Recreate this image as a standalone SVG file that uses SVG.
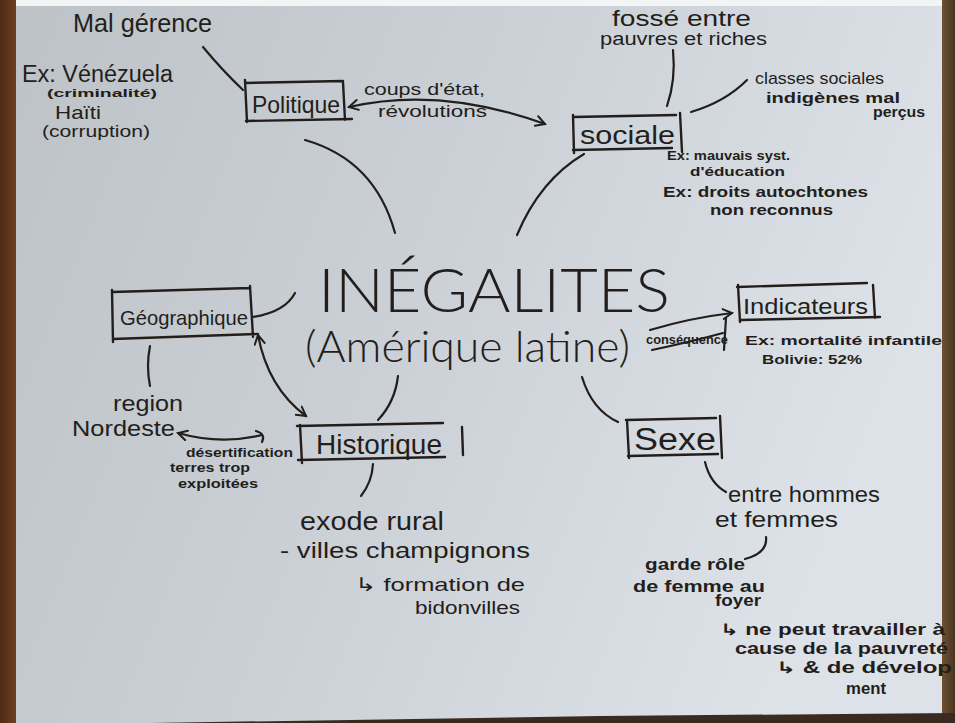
<svg xmlns="http://www.w3.org/2000/svg" width="955" height="723" viewBox="0 0 955 723">
  <defs>
    <linearGradient id="paper" x1="0" y1="0" x2="1" y2="0.3">
      <stop offset="0" stop-color="#bcc2c6"/>
      <stop offset="0.5" stop-color="#cad0d5"/>
      <stop offset="1" stop-color="#dce2e7"/>
    </linearGradient>
    <linearGradient id="woodL" x1="0" y1="0" x2="1" y2="0">
      <stop offset="0" stop-color="#4e2a16"/>
      <stop offset="1" stop-color="#70401f"/>
    </linearGradient>
    <linearGradient id="woodR" x1="0" y1="0" x2="1" y2="0">
      <stop offset="0" stop-color="#6e5232"/>
      <stop offset="1" stop-color="#4a3420"/>
    </linearGradient>
    <marker id="tip" viewBox="0 0 12 12" refX="10" refY="6" markerWidth="12" markerHeight="12" markerUnits="userSpaceOnUse" orient="auto-start-reverse">
      <path d="M1,1 L10,6 L1,11" fill="none" stroke="#231e1b" stroke-width="2" stroke-linecap="round"/>
    </marker>
  </defs>
  <style>
    .ink { fill: #231e1b; font-family: "Liberation Sans", "DejaVu Sans", sans-serif; }
    .thin { font-family: "Lato", "Open Sans", "Liberation Sans", sans-serif; font-weight: 300; }
    .b { font-weight: bold; }
    .line { fill: none; stroke: #231e1b; stroke-width: 2.2; stroke-linecap: round; }
    .box { fill: none; stroke: #231e1b; stroke-width: 2.4; stroke-linecap: round; }
  </style>

  <!-- sheet and surroundings -->
  <rect x="0" y="0" width="955" height="723" fill="url(#paper)"/>
  <rect x="0" y="0" width="955" height="6" fill="#f3f4f5"/>
  <rect x="0" y="0" width="16" height="723" fill="url(#woodL)"/>
  <rect x="942" y="0" width="13" height="723" fill="url(#woodR)"/>
  <polygon points="150,723 955,723 955,713 600,716" fill="#3a2a20"/>

  <!-- connectors -->
  <g id="connectors">
    <path class="line" d="M203,47 Q222,70 243,90"/>
    <path class="line" d="M349,107 Q440,86 545,124" marker-start="url(#tip)" marker-end="url(#tip)"/>
    <path class="line" d="M673,50 Q676,80 667,106"/>
    <path class="line" d="M691,112 Q725,102 747,80"/>
    <path class="line" d="M305,140 Q375,160 395,233"/>
    <path class="line" d="M584,154 Q540,180 517,235"/>
    <path class="line" d="M253,317 Q285,312 295,293"/>
    <path class="line" d="M258,335 Q268,388 306,416" marker-start="url(#tip)" marker-end="url(#tip)"/>
    <path class="line" d="M150,346 Q146,366 150,386"/>
    <path class="line" d="M398,376 Q395,402 378,420"/>
    <path class="line" d="M178,433 Q220,445 262,435" marker-start="url(#tip)"/>
    <path class="line" d="M256,431 Q266,434 262,442"/>
    <path class="line" d="M373,464 Q372,482 361,496"/>
    <path class="line" d="M650,330 Q690,318 732,313" marker-end="url(#tip)"/>
    <path class="line" d="M652,350 Q690,342 723,333"/>
    <path class="line" d="M726,318 L724,350"/>
    <path class="line" d="M582,377 Q592,410 618,422"/>
    <path class="line" d="M705,462 Q710,483 726,492"/>
    <path class="line" d="M766,537 Q768,553 745,559"/>
  </g>

  <!-- central topic -->
  <g id="inegalites">
    <text class="ink thin" x="318" y="312" font-size="62" textLength="352" lengthAdjust="spacingAndGlyphs">INÉGALITES</text>
    <text class="ink thin" x="305" y="362" font-size="43" textLength="325" lengthAdjust="spacingAndGlyphs">(Amérique latine)</text>
  </g>

  <!-- political -->
  <g id="politique">
    <path class="box" d="M245,83 L343,81 M245,80 L247,122 M246,121 L352,119 M343,82 L345,120"/>
    <text class="ink" x="252" y="113" font-size="24" textLength="88" lengthAdjust="spacingAndGlyphs">Politique</text>
  </g>
  <g id="mal-gerence">
    <text class="ink" x="73" y="32" font-size="26" textLength="139" lengthAdjust="spacingAndGlyphs">Mal gérence</text>
    <text class="ink" x="22" y="82" font-size="23" textLength="151" lengthAdjust="spacingAndGlyphs">Ex: Vénézuela</text>
    <text class="ink b" x="47" y="97" font-size="11" textLength="110" lengthAdjust="spacingAndGlyphs">(criminalité)</text>
    <text class="ink" x="55" y="119" font-size="19" textLength="46" lengthAdjust="spacingAndGlyphs">Haïti</text>
    <text class="ink" x="42" y="137" font-size="17" textLength="108" lengthAdjust="spacingAndGlyphs">(corruption)</text>
  </g>
  <g id="coups-etat">
    <text class="ink" x="364" y="95" font-size="17" textLength="121" lengthAdjust="spacingAndGlyphs">coups d'état,</text>
    <text class="ink" x="378" y="117" font-size="17" textLength="109" lengthAdjust="spacingAndGlyphs">révolutions</text>
  </g>

  <!-- social -->
  <g id="sociale">
    <path class="box" d="M573,117 L676,115 M573,115 L574,153 M573,150 L672,148 M680,113 L682,152"/>
    <text class="ink" x="580" y="144" font-size="26" textLength="95" lengthAdjust="spacingAndGlyphs">sociale</text>
  </g>
  <g id="fosse">
    <text class="ink" x="612" y="26" font-size="22" textLength="139" lengthAdjust="spacingAndGlyphs">fossé entre</text>
    <text class="ink" x="600" y="45" font-size="18" textLength="167" lengthAdjust="spacingAndGlyphs">pauvres et riches</text>
  </g>
  <g id="classes">
    <text class="ink" x="755" y="84" font-size="17" textLength="129" lengthAdjust="spacingAndGlyphs">classes sociales</text>
    <text class="ink b" x="766" y="103" font-size="14" textLength="134" lengthAdjust="spacingAndGlyphs">indigènes mal</text>
    <text class="ink b" x="873" y="117" font-size="14" textLength="52" lengthAdjust="spacingAndGlyphs">perçus</text>
  </g>
  <g id="education">
    <text class="ink b" x="667" y="160" font-size="13" textLength="123" lengthAdjust="spacingAndGlyphs">Ex: mauvais syst.</text>
    <text class="ink b" x="690" y="176" font-size="13" textLength="95" lengthAdjust="spacingAndGlyphs">d'éducation</text>
    <text class="ink b" x="663" y="197" font-size="15" textLength="205" lengthAdjust="spacingAndGlyphs">Ex: droits autochtones</text>
    <text class="ink b" x="710" y="215" font-size="15" textLength="123" lengthAdjust="spacingAndGlyphs">non reconnus</text>
  </g>

  <!-- geographic -->
  <g id="geographique">
    <path class="box" d="M112,292 L250,288 M112,290 L113,342 M113,339 L258,334 M250,286 L253,337"/>
    <text class="ink" x="120" y="325" font-size="21" textLength="128" lengthAdjust="spacingAndGlyphs">Géographique</text>
  </g>
  <g id="nordeste">
    <text class="ink" x="113" y="411" font-size="22" textLength="70" lengthAdjust="spacingAndGlyphs">region</text>
    <text class="ink" x="72" y="436" font-size="22" textLength="103" lengthAdjust="spacingAndGlyphs">Nordeste</text>
  </g>
  <g id="desertification">
    <text class="ink b" x="186" y="457" font-size="13" textLength="107" lengthAdjust="spacingAndGlyphs">désertification</text>
    <text class="ink b" x="170" y="472" font-size="13" textLength="80" lengthAdjust="spacingAndGlyphs">terres trop</text>
    <text class="ink b" x="178" y="488" font-size="13" textLength="80" lengthAdjust="spacingAndGlyphs">exploitées</text>
  </g>

  <!-- historical -->
  <g id="historique">
    <path class="box" d="M297,426 L443,423 M300,425 L302,463 M298,460 L445,457 M462,427 L463,455"/>
    <text class="ink" x="316" y="454" font-size="27" textLength="126" lengthAdjust="spacingAndGlyphs">Historique</text>
  </g>
  <g id="exode">
    <text class="ink" x="300" y="530" font-size="25" textLength="144" lengthAdjust="spacingAndGlyphs">exode rural</text>
    <text class="ink" x="280" y="558" font-size="22" textLength="250" lengthAdjust="spacingAndGlyphs">- villes champignons</text>
    <text class="ink" x="355" y="591" font-size="19" textLength="170" lengthAdjust="spacingAndGlyphs">↳ formation de</text>
    <text class="ink" x="415" y="614" font-size="19" textLength="105" lengthAdjust="spacingAndGlyphs">bidonvilles</text>
  </g>

  <!-- indicators -->
  <g id="indicateurs">
    <path class="box" d="M737,287 L867,283 M738,285 L740,322 M741,320 L880,317 M873,285 L875,318"/>
    <text class="ink" x="743" y="314" font-size="22" textLength="125" lengthAdjust="spacingAndGlyphs">Indicateurs</text>
  </g>
  <g id="consequence">
    <text class="ink b" x="646" y="344" font-size="13" textLength="82" lengthAdjust="spacingAndGlyphs">conséquence</text>
  </g>
  <g id="mortalite">
    <text class="ink b" x="745" y="345" font-size="13" textLength="197" lengthAdjust="spacingAndGlyphs">Ex: mortalité infantile</text>
    <text class="ink b" x="762" y="364" font-size="13" textLength="100" lengthAdjust="spacingAndGlyphs">Bolivie: 52%</text>
  </g>

  <!-- gender -->
  <g id="sexe">
    <path class="box" d="M626,420 L716,418 M627,420 L629,458 M628,456 L718,454 M720,416 L722,458"/>
    <text class="ink" x="634" y="450" font-size="31" textLength="82" lengthAdjust="spacingAndGlyphs">Sexe</text>
  </g>
  <g id="hommes-femmes">
    <text class="ink" x="728" y="502" font-size="22" textLength="152" lengthAdjust="spacingAndGlyphs">entre hommes</text>
    <text class="ink" x="715" y="527" font-size="22" textLength="123" lengthAdjust="spacingAndGlyphs">et femmes</text>
  </g>
  <g id="foyer">
    <text class="ink b" x="645" y="570" font-size="16" textLength="100" lengthAdjust="spacingAndGlyphs">garde rôle</text>
    <text class="ink b" x="633" y="592" font-size="16" textLength="132" lengthAdjust="spacingAndGlyphs">de femme au</text>
    <text class="ink b" x="715" y="606" font-size="16" textLength="46" lengthAdjust="spacingAndGlyphs">foyer</text>
    <text class="ink b" x="720" y="635" font-size="16" textLength="225" lengthAdjust="spacingAndGlyphs">↳ ne peut travailler à</text>
    <text class="ink b" x="735" y="654" font-size="16" textLength="213" lengthAdjust="spacingAndGlyphs">cause de la pauvreté</text>
    <text class="ink b" x="776" y="673" font-size="16" textLength="176" lengthAdjust="spacingAndGlyphs">↳ &amp; de dévelop</text>
    <text class="ink b" x="846" y="694" font-size="16" textLength="40" lengthAdjust="spacingAndGlyphs">ment</text>
  </g>
</svg>
